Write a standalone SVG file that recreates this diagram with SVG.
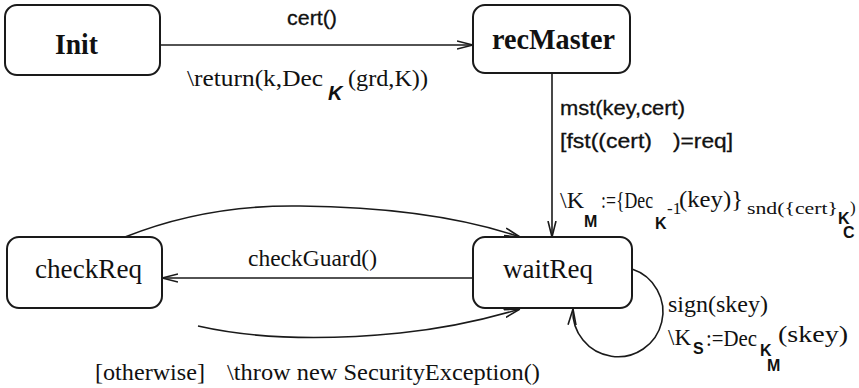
<svg xmlns="http://www.w3.org/2000/svg" width="859" height="388" viewBox="0 0 859 388">
  <style>
    .box { fill: #fff; stroke: #1a1a1a; stroke-width: 2; }
    .edge { fill: none; stroke: #1a1a1a; stroke-width: 1.6; }
    .node { font-family: "Liberation Serif", "Times New Roman", serif; font-size: 27px; fill: #111; }
    .bold { font-weight: bold; font-size: 29px; }
    .lbl { font-family: "Liberation Serif", "Times New Roman", serif; font-size: 24px; fill: #111; }
    .sans { font-family: "Liberation Sans", Arial, sans-serif; font-size: 20px; fill: #111; stroke: #111; stroke-width: 0.3; }
    .sub { font-family: "Liberation Sans", Arial, sans-serif; font-weight: bold; font-size: 16px; fill: #111; }
    .small { font-family: "Liberation Serif", "Times New Roman", serif; font-size: 17px; fill: #111; }
  </style>
  <defs>
    <marker id="arr" viewBox="0 0 16 10" refX="16" refY="5" markerWidth="16" markerHeight="10" markerUnits="userSpaceOnUse" orient="auto">
      <path d="M0,1 L16,5 L0,9" fill="none" stroke="#1a1a1a" stroke-width="1.6"/>
    </marker>
  </defs>

  <rect width="859" height="388" fill="#fff"/>

  <!-- transitions -->
  <g id="connectors">
    <path class="edge" d="M160,45 L473,45" marker-end="url(#arr)"/>
    <path class="edge" d="M552,73 L552,237" marker-end="url(#arr)"/>
    <path class="edge" d="M473,278 L162,278" marker-end="url(#arr)"/>
    <path class="edge" d="M125,237 C180,215 240,205 300,206 C400,207 470,220 520,237" marker-end="url(#arr)"/>
    <path class="edge" d="M198,326 C260,340 330,340 400,333 C450,328 490,318 520,309" marker-end="url(#arr)"/>
    <path class="edge" d="M632,269 A45,45 0 1 1 573,309" marker-end="url(#arr)"/>
  </g>

  <!-- transition labels -->
  <g id="labels">
    <text class="sans" x="287" y="25" textLength="50" lengthAdjust="spacingAndGlyphs">cert()</text>
    <text class="lbl" x="187" y="86" textLength="136" lengthAdjust="spacingAndGlyphs">\return(k,Dec</text>
    <text x="328" y="100" font-family="Liberation Sans, Arial, sans-serif" font-weight="bold" font-style="italic" font-size="20" fill="#111">K</text>
    <text class="lbl" x="348" y="86" textLength="80" lengthAdjust="spacingAndGlyphs">(grd,K))</text>

    <text class="sans" x="560" y="115" textLength="125" lengthAdjust="spacingAndGlyphs">mst(key,cert)</text>
    <text class="sans" x="560" y="148" textLength="92" lengthAdjust="spacingAndGlyphs">[fst((cert)</text>
    <text class="sans" x="673" y="148" textLength="60" lengthAdjust="spacingAndGlyphs">)=req]</text>

    <text class="lbl" x="560" y="208" font-size="23">\K</text>
    <text class="sub" x="584" y="227">M</text>
    <text class="lbl" x="601" y="208" font-size="22" textLength="52" lengthAdjust="spacingAndGlyphs">:={Dec</text>
    <text class="sub" x="655" y="229">K</text>
    <text class="small" x="667" y="214" font-size="12">-1</text>
    <text class="lbl" x="679" y="207" textLength="64" lengthAdjust="spacingAndGlyphs">(key)}</text>
    <text class="small" x="747" y="214" textLength="91" lengthAdjust="spacingAndGlyphs">snd({cert}</text>
    <text class="sub" x="838" y="224" font-size="13">K</text>
    <text class="sub" x="843" y="238" font-size="11">C</text>
    <text class="small" x="850" y="213">)</text>

    <text class="lbl" x="248" y="266" textLength="129" lengthAdjust="spacingAndGlyphs">checkGuard()</text>

    <text class="lbl" x="95" y="380" textLength="110" lengthAdjust="spacingAndGlyphs">[otherwise]</text>
    <text class="lbl" x="227" y="380" textLength="313" lengthAdjust="spacingAndGlyphs">\throw new SecurityException()</text>

    <text class="lbl" x="668" y="312" textLength="100" lengthAdjust="spacingAndGlyphs">sign(skey)</text>
    <text class="lbl" x="668" y="345" textLength="23" lengthAdjust="spacingAndGlyphs">\K</text>
    <text class="sub" x="693" y="354" font-size="16">S</text>
    <text class="lbl" x="706" y="346" textLength="51" lengthAdjust="spacingAndGlyphs">:=Dec</text>
    <text class="sub" x="760" y="356" font-size="14">K</text>
    <text class="sub" x="767" y="371" font-size="11">M</text>
    <text class="lbl" x="778" y="342" textLength="70" lengthAdjust="spacingAndGlyphs">(skey)</text>
  </g>

  <!-- states -->
  <g id="init">
    <rect class="box" x="5" y="5" width="155" height="70" rx="12"/>
    <text class="node bold" x="55" y="54" textLength="43" lengthAdjust="spacingAndGlyphs">Init</text>
  </g>
  <g id="recMaster">
    <rect class="box" x="473" y="5" width="157" height="68" rx="12"/>
    <text class="node bold" x="492" y="49" textLength="123" lengthAdjust="spacingAndGlyphs">recMaster</text>
  </g>
  <g id="checkReq">
    <rect class="box" x="7" y="237" width="155" height="71" rx="12"/>
    <text class="node" x="35" y="278" textLength="107" lengthAdjust="spacingAndGlyphs">checkReq</text>
  </g>
  <g id="waitReq">
    <rect class="box" x="473" y="237" width="159" height="71" rx="12"/>
    <text class="node" x="503" y="278" textLength="90" lengthAdjust="spacingAndGlyphs">waitReq</text>
  </g>
</svg>
